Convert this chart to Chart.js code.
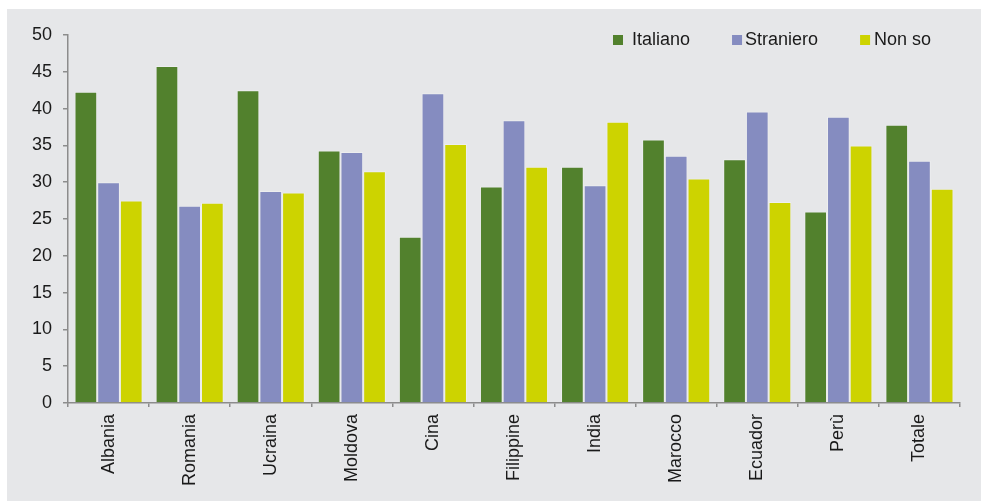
<!DOCTYPE html>
<html>
<head>
<meta charset="utf-8">
<script src="https://cdn.jsdelivr.net/npm/chart.js@4/dist/chart.umd.min.js"></script>
<style>
  body { margin: 0; background: #ffffff; }
  #box { position: absolute; left: 7px; top: 9px; width: 974px; height: 492px; background: #e6e7e9; }
</style>
</head>
<body>
<div id="box"><canvas id="chart" width="974" height="492"></canvas></div>
<script>
const paesi = ["Albania", "Romania", "Ucraina", "Moldova", "Cina", "Filippine", "India", "Marocco", "Ecuador", "Perù", "Totale"];
const italiano = [42.3, 45.8, 42.5, 34.3, 22.6, 29.4, 32.1, 35.8, 33.1, 26.0, 37.8];
const straniero = [30.0, 26.8, 28.8, 34.1, 42.1, 38.4, 29.6, 33.6, 39.6, 38.9, 32.9];
const nonSo = [27.5, 27.2, 28.6, 31.5, 35.2, 32.1, 38.2, 30.5, 27.3, 35.0, 29.1];
const yTicks = [0, 5, 10, 15, 20, 25, 30, 35, 40, 45, 50];

const font = { family: "'Liberation Sans', Arial, sans-serif", size: 18 };

// legenda disegnata dentro l'area del grafico, in alto a destra
const legendaInterna = {
    id: "legendaInterna",
    afterDraw(chart) {
        const ctx = chart.ctx;
        const area = chart.chartArea;
        let x = area.right - 347;
        const y = area.top;
        const gaps = [9, 3, 4];
        ctx.save();
        ctx.font = font.size + "px " + font.family;
        ctx.textBaseline = "middle";
        chart.data.datasets.forEach(function(ds, i) {
            ctx.fillStyle = ds.backgroundColor;
            ctx.fillRect(x, y, 10, 10);
            x += 10 + gaps[i];
            ctx.fillStyle = "#1a1a1a";
            ctx.fillText(ds.label, x, y + 5);
            x += ctx.measureText(ds.label).width + 42;
        });
        ctx.restore();
    }
};

new Chart(document.getElementById("chart").getContext("2d"), {
    type: "bar",
    data: {
        labels: paesi,
        datasets: [
            { label: "Italiano", data: italiano, backgroundColor: "#52812d", borderColor: "rgba(255,255,255,0.3)", borderWidth: 1 },
            { label: "Straniero", data: straniero, backgroundColor: "#858cc0", borderColor: "rgba(255,255,255,0.3)", borderWidth: 1 },
            { label: "Non so", data: nonSo, backgroundColor: "#cdd300", borderColor: "rgba(255,255,255,0.3)", borderWidth: 1 }
        ]
    },
    options: {
        responsive: false,
        animation: false,
        layout: { padding: { left: 14, right: 21, top: 26, bottom: 8 } },
        datasets: { bar: { barPercentage: 1, categoryPercentage: 0.84 } },
        plugins: {
            legend: { display: false },
            tooltip: { enabled: false }
        },
        scales: {
            x: {
                grid: { drawOnChartArea: false, drawTicks: true, tickLength: 4, color: "#8c8c8c", lineWidth: 1.5, offset: true },
                border: { color: "#8c8c8c", width: 1.5 },
                ticks: { color: "#1a1a1a", font: font, minRotation: 90, maxRotation: 90, padding: 7, autoSkip: false }
            },
            y: {
                min: 0,
                max: 50,
                afterBuildTicks: function(axis) { axis.ticks = yTicks.map(function(v) { return { value: v }; }); },
                grid: { drawOnChartArea: false, drawTicks: true, tickLength: 5, color: "#8c8c8c", lineWidth: 1.5 },
                border: { color: "#8c8c8c", width: 1.5 },
                ticks: { color: "#1a1a1a", font: font, padding: 11 }
            }
        }
    },
    plugins: [legendaInterna]
});
</script>
</body>
</html>
